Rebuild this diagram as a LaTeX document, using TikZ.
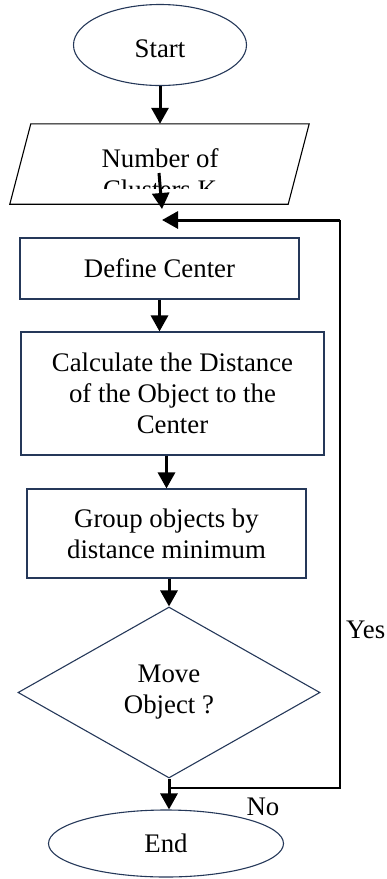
\documentclass[tikz,border=0pt]{standalone}
\usepackage{fontspec}
\setmainfont{Liberation Serif}
\usepackage{tikz}
\definecolor{boxline}{RGB}{37,56,89}
\tikzset{
  block_font/.style = {font=\fontsize{26.8}{31}\selectfont},
  block_line/.style = {draw=boxline, line width=1.1}
}
\tikzset{
  terminal/.style = {block_font, block_line, ellipse, inner sep=0, align=center},
  io/.style = {rectangle, inner sep=0},
  io_line/.style = {draw=black, line width=1.1},
  process/.style = {block_font, block_line, rectangle, inner sep=0, align=center},
  decision/.style = {block_font, block_line, diamond, inner sep=0, align=center},
  label/.style = {block_font, inner sep=0},
  arrow/.style = {line width=3, -{Triangle[width=17,length=16]}},
  loop_line/.style = {line width=2}
}
\usetikzlibrary{shapes.geometric, arrows.meta, positioning, calc}
\begin{document}
\begin{tikzpicture}[x=1pt, y=-1pt]
    \useasboundingbox (0,0) rectangle (387,879);

    % Shapes
    \node[terminal, minimum width=173, minimum height=81] at (160,45) (start) {};
    \node[label] at (160,49) (start_text) {Start};
    \node[io, minimum width=278, minimum height=80] at (159,164) (input) {};
    \draw[io_line] ([xshift=11]input.north west) -- ([xshift=11]input.north east)
        -- ([xshift=-10]input.south east) -- ([xshift=-10]input.south west) -- cycle;
    \begin{scope}
        \clip (0,124) rectangle (387,188);
        \node[label, align=center] at (160,174) (input_text) {Number of\\Clusters K};
    \end{scope}
    \node[process, minimum width=279, minimum height=61] at (159.5,268.5) (define) {Define Center};
    \node[process, minimum width=303, minimum height=123] at (172.5,393.5) (calc) {
        Calculate the Distance\\of the Object to the\\Center};
    \node[process, minimum width=279, minimum height=89] at (166.5,533.5) (group) {
        Group objects by\\distance minimum};
    \node[decision, minimum width=302, minimum height=171] at (169,692.5) (decide) {
        Move\\Object ?};
    \node[terminal, minimum width=235, minimum height=67] at (166,843.5) (finish) {End};

    % Labels
    \node[label, anchor=west] at (346,630) (yes_label) {Yes};
    \node[label] at (263,807) (no_label) {No};

    % Arrows and lines
    \coordinate (merge) at (162,209);
    \coordinate (loop_corner) at (340,220);
    \draw[arrow] (start.south) -- (input.north -| start.south);
    \draw[arrow] ([yshift=-9]input.center) -- (merge);
    \draw[arrow] (define.south) -- (define.south |- calc.north);
    \draw[arrow] (group.north |- calc.south) -- (group.north);
    \draw[arrow] (group.south -| decide.north) -- (decide.north);
    \draw[arrow] (decide.south) -- (finish.north -| decide.south);
    \draw[loop_line] ([yshift=-9]decide.south) -| (loop_corner);
    \draw[loop_line, arrow] (loop_corner) -- (loop_corner -| merge);
\end{tikzpicture}
\end{document}
